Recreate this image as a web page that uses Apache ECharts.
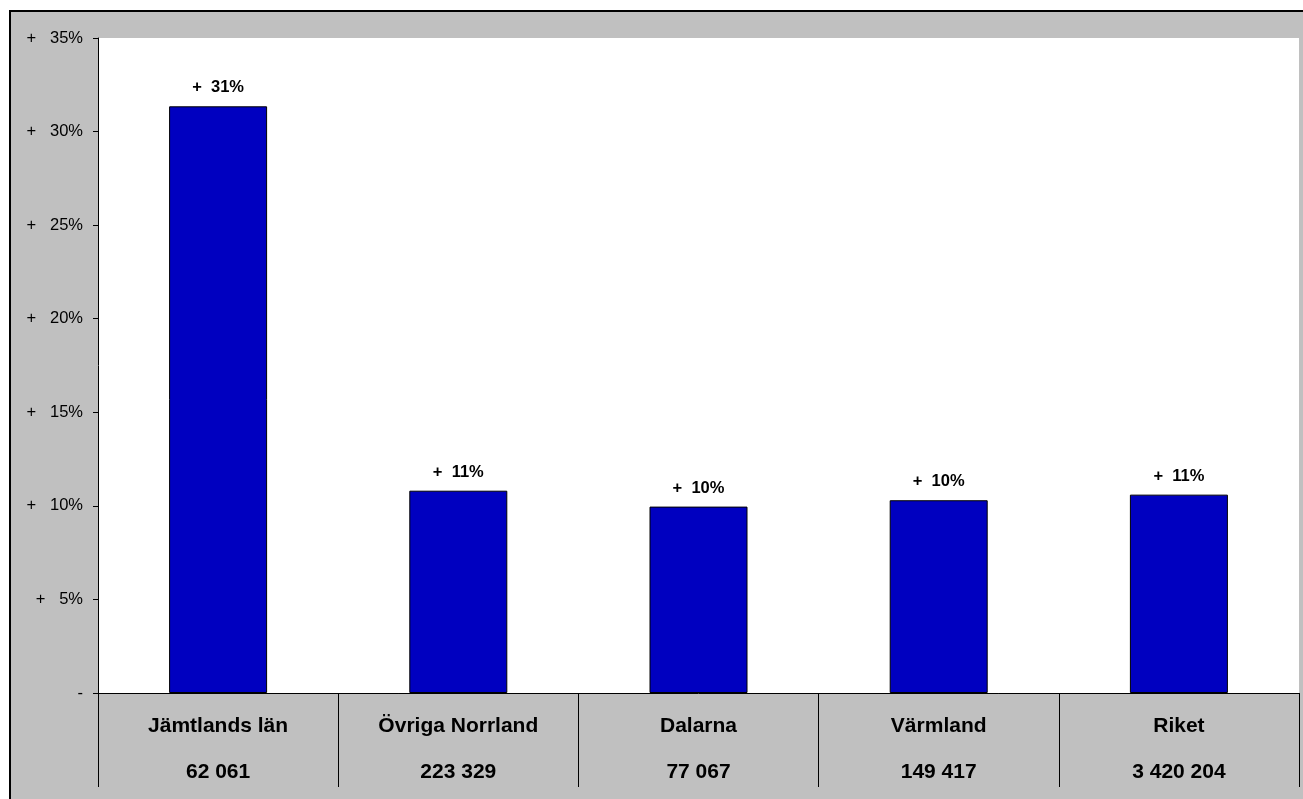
<!DOCTYPE html>
<html>
<head>
<meta charset="utf-8">
<script src="https://cdn.jsdelivr.net/npm/echarts@6/dist/echarts.min.js"></script>
<style>
html,body{margin:0;padding:0;background:#fff;}
#chart{width:1303px;height:799px;}
</style>
</head>
<body>
<div id="chart"></div>
<script>
const categories = ['Jämtlands län', 'Övriga Norrland', 'Dalarna', 'Värmland', 'Riket'];
const populations = ['62 061', '223 329', '77 067', '149 417', '3 420 204'];
const changePct = [31.35, 10.81, 9.96, 10.30, 10.60];
const yTicks = [0, 5, 10, 15, 20, 25, 30, 35];

const chart = echarts.init(document.getElementById('chart'));
const FONT = 'Liberation Sans, Arial, sans-serif';
chart.setOption({
  backgroundColor: '#c0c0c0',
  animation: false,
  graphic: [
    { type: 'rect', shape: { x: 0, y: 0, width: 1303, height: 10 }, style: { fill: '#fff' }, silent: true },
    { type: 'rect', shape: { x: 0, y: 0, width: 9, height: 799 }, style: { fill: '#fff' }, silent: true },
    { type: 'line', shape: { x1: 9, y1: 11, x2: 1303, y2: 11 }, style: { stroke: '#000', lineWidth: 2 }, silent: true },
    { type: 'line', shape: { x1: 10, y1: 10, x2: 10, y2: 799 }, style: { stroke: '#000', lineWidth: 2 }, silent: true }
  ],
  grid: {
    left: 98, right: 4, top: 38, bottom: 106,
    show: true, backgroundColor: '#ffffff', borderWidth: 0
  },
  xAxis: {
    type: 'category',
    data: categories,
    axisLine: { show: true, lineStyle: { color: '#000', width: 1 } },
    axisTick: { show: true, alignWithLabel: false, interval: 0, length: 94, lineStyle: { color: '#000', width: 1 } },
    axisLabel: {
      interval: 0,
      margin: 10,
      fontFamily: FONT,
      fontSize: 21,
      fontWeight: 'bold',
      color: '#000',
      lineHeight: 46,
      formatter: function (v, i) { return v + '\n' + populations[i]; }
    },
    splitLine: { show: false }
  },
  yAxis: {
    type: 'value',
    min: yTicks[0],
    max: yTicks[yTicks.length - 1],
    interval: 5,
    axisLine: { show: true, lineStyle: { color: '#000', width: 1 } },
    axisTick: { show: true, length: 5, lineStyle: { color: '#000' } },
    splitLine: { show: false },
    axisLabel: {
      margin: 15,
      fontFamily: FONT,
      fontSize: 16.5,
      color: '#000',
      formatter: function (v) { return v === 0 ? '-' : '+   ' + v + '%'; }
    }
  },
  series: [{
    type: 'bar',
    data: changePct,
    barWidth: 98,
    itemStyle: { color: '#0000c0', borderColor: '#000', borderWidth: 1 },
    label: {
      show: true,
      position: 'top',
      distance: 10,
      fontFamily: FONT,
      fontSize: 16.5,
      fontWeight: 'bold',
      color: '#000',
      formatter: function (p) { return '+  ' + Math.round(p.value) + '%'; }
    }
  }]
});
</script>
</body>
</html>
